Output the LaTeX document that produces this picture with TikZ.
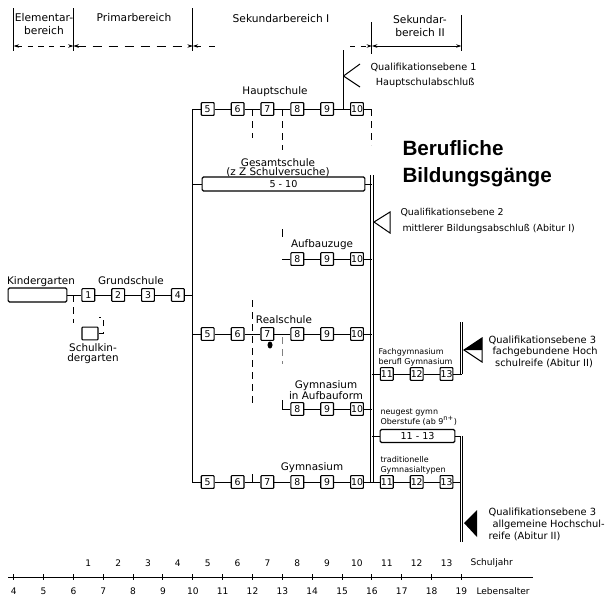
\documentclass[tikz,border=0pt]{standalone}
\usepackage{fontspec}
\setmainfont{DejaVu Sans}
\newfontfamily\titelfont{Liberation Sans}
\usetikzlibrary{arrows.meta}

\tikzset{every picture/.style={line width=0.75pt}}
\tikzset{
  spitze/.tip={Stealth[length=4pt,width=2.6pt]},
  jahr/.style={draw, line width=0.85pt, minimum size=9.6pt, inner sep=0pt, rounded corners=0.6pt, font=\fontsize{7}{7}\selectfont},
  lang/.style={draw, line width=0.85pt, minimum height=10.5pt, inner sep=0pt, rounded corners=1pt, font=\fontsize{7.2}{7.5}\selectfont},
  lbl/.style={inner sep=0.75pt, align=center, font=\fontsize{7.8}{8}\selectfont},
  klein/.style={anchor=west, inner sep=0.75pt, align=left, font=\fontsize{6}{7.5}\selectfont},
  qual/.style={anchor=west, inner sep=0.75pt, align=left},
  kopf/.style={inner sep=0.75pt, align=center, font=\fontsize{8}{9.75}\selectfont},
  achse/.style={inner sep=0.75pt, font=\fontsize{6.8}{7}\selectfont},
  pfeil/.style={spitze-spitze, line width=0.6pt},
  stamm/.style={double, double distance=1.2pt, line width=0.6pt},
  strich/.style={dash pattern=on 5pt off 4pt},
}

\begin{document}
\begin{tikzpicture}[x=0.75pt,y=0.75pt,yscale=-1,xscale=1]
\useasboundingbox (0,0) rectangle (614,600);

% Kopfzeile
\draw (13.7,8) -- (13.7,51);
\draw (73.4,8) -- (73.4,51);
\draw (192.8,8) -- (192.8,51);
\draw (371.9,22) -- (371.9,54);
\draw (461.5,15) -- (461.5,51);
\draw[pfeil, dash pattern=on 4pt off 4pt] (13.7,46) -- (73.4,46);
\draw[pfeil, dash pattern=on 7pt off 5pt] (73.4,46) -- (192.8,46);
\draw[spitze-, line width=0.6pt, dash pattern=on 4pt off 6pt] (192.8,46) -- (222,46);
\draw[-spitze, line width=0.6pt, dash pattern=on 4pt off 4pt] (350,46) -- (371.9,46);
\draw[pfeil] (371.9,46) -- (461.5,46);
\node[kopf] (elem) at (44,24.5) {Elementar-\\bereich};
\node[kopf] (prim) at (134,18) {Primarbereich};
\node[kopf] (sek1) at (281,19) {Sekundarbereich I};
\node[kopf] (sek2) at (420,26) {Sekundar-\\bereich II};

% Elementar- und Primarbereich
\node[lang, minimum width=44pt] (kiga) at (37.5,295) {};
\node[jahr] (g1) at (88.3,295) {1};
\node[jahr] (g2) at (118.2,295) {2};
\node[jahr] (g3) at (148,295) {3};
\node[jahr] (g4) at (177.9,295) {4};
\draw (kiga) -- (g1) -- (g2) -- (g3) -- (g4);
\node[lbl] (lkiga) at (41,282) {Kindergarten};
\node[lbl] (lgrund) at (131,281) {Grundschule};
\node[jahr, minimum width=12pt] (skg) at (90,333.5) {};
\node[lbl, font=\fontsize{7.8}{7.5}\selectfont] (lskg) at (93,354) {Schulkin-\\dergarten};
\coordinate (kd) at (73.4,295);
\draw[strich] (kd) -- ++(0,28);
\draw[strich] (skg.east) -| (103.3,317) -- ++(-4,0);

% Sekundarbereich I
\coordinate (lo) at (192.8,109);
\coordinate (lu) at (192.8,482);
\coordinate (ro) at (371.9,175);
\coordinate (ru) at (371.9,482);

\node[jahr] (h5) at (207.7,109) {5};
\node[jahr] (h6) at (237.6,109) {6};
\node[jahr] (h7) at (267.4,109) {7};
\node[jahr] (h8) at (297.3,109) {8};
\node[jahr] (h9) at (327.1,109) {9};
\node[jahr] (h10) at (357,109) {10};
\coordinate (he) at (371.9,109);
\draw (h5) -- (h6) -- (h7) -- (h8) -- (h9) -- (h10) -- (he);
\draw[strich] (he) -- ++(0,36);
\node[lbl] (lhaupt) at (275,92) {Hauptschule};

\node[lang, minimum width=122pt] (gs) at (283.5,184) {5 - 10};
\node[lbl, font=\fontsize{7.8}{7}\selectfont] (lgs) at (278,167.5) {Gesamtschule\\(z Z Schulversuche)};

\node[jahr] (a8) at (297.3,259) {8};
\node[jahr] (a9) at (327.1,259) {9};
\node[jahr] (a10) at (357,259) {10};
\coordinate (auflead) at (282.4,259);
\draw (auflead) -- (a8) -- (a9) -- (a10);
\node[lbl] (lauf) at (322,245) {Aufbauzuge};

\node[jahr] (r5) at (207.7,334) {5};
\node[jahr] (r6) at (237.6,334) {6};
\node[jahr] (r7) at (267.4,334) {7};
\node[jahr] (r8) at (297.3,334) {8};
\node[jahr] (r9) at (327.1,334) {9};
\node[jahr] (r10) at (357,334) {10};
\draw (r5) -- (r6) -- (r7) -- (r8) -- (r9) -- (r10);
\node[lbl] (lreal) at (284,320) {Realschule};
\fill (270,345) ellipse [x radius=2.5, y radius=3.5];

\node[jahr] (ga8) at (297.3,409) {8};
\node[jahr] (ga9) at (327.1,409) {9};
\node[jahr] (ga10) at (357,409) {10};
\coordinate (gaflead) at (282.4,400);
\draw (gaflead) |- (ga8);
\draw (ga8) -- (ga9) -- (ga10);
\node[lbl, font=\fontsize{7.8}{8.25}\selectfont] (lgaf) at (326,390.5) {Gymnasium\\in Aufbauform};

\node[jahr] (gy5) at (207.7,482) {5};
\node[jahr] (gy6) at (237.6,482) {6};
\node[jahr] (gy7) at (267.4,482) {7};
\node[jahr] (gy8) at (297.3,482) {8};
\node[jahr] (gy9) at (327.1,482) {9};
\node[jahr] (gy10) at (357,482) {10};
\draw (gy5) -- (gy6) -- (gy7) -- (gy8) -- (gy9) -- (gy10);
\node[lbl] (lgym) at (312,468) {Gymnasium};

% Stamm links
\draw (h5) -- (lo) -- (lu) -- (gy5);
\draw (g4) -- (g4 -| lo);
\draw (gs) -- (gs -| lo);
\draw (r5) -- (r5 -| lo);

% gestrichelte Linien
\draw[strich] (252.5,109) -- (252.5,138);
\draw[strich] (282.4,109) -- (282.4,150);
\draw (282.4,229) -- (282.4,237);
\draw[strich] (252.5,300) -- (252.5,405);
\draw (252.5,474) -- (252.5,482);
\draw[strich, gray] (282.4,337) -- (282.4,364);

% Qualifikationsebene 1
\coordinate (q1o) at (342.1,50);
\coordinate (q1u) at (342.1,109);
\draw[stamm] (q1o) -- (q1u);
\draw (343.5,76) -- (360,64);
\draw (343.5,76) -- (360,87);
\node[qual, font=\fontsize{7.3}{11.25}\selectfont] (q1) at (369,75.5) {Qualifikationsebene 1\\\hspace*{4pt}Hauptschulabschluß};

% Stamm rechts
\draw[stamm] (ro) -- (ru);
\draw (gs) -- (gs -| ro);
\draw (a10) -- (a10 -| ro);
\draw (r10) -- (r10 -| ro);
\draw (ga10) -- (ga10 -| ro);

\node[anchor=base west, inner sep=0pt, font={\titelfont\bfseries\fontsize{15.5}{18}\selectfont}] (beruf) at (402,155) {Berufliche};
\node[anchor=base west, inner sep=0pt, font={\titelfont\bfseries\fontsize{15.5}{18}\selectfont}] (bild) at (402,182) {Bildungsgänge};

% Qualifikationsebene 2
\draw (374,222) -- (390,212) -- (390,233) -- cycle;
\node[qual, font=\fontsize{7.1}{12}\selectfont] (q2) at (399,221) {Qualifikationsebene 2\\\hspace*{1.5pt}mittlerer Bildungsabschluß (Abitur I)};

% Sekundarbereich II
\node[jahr] (f11) at (386.8,374) {11};
\node[jahr] (f12) at (416.7,374) {12};
\node[jahr] (f13) at (446.5,374) {13};
\draw (f11 -| ro) -- (f11) -- (f12) -- (f13);
\node[klein] (lfach) at (377,357) {Fachgymnasium\\berufl Gymnasium};
\coordinate (q3ao) at (461.5,322);
\coordinate (q3au) at (461.5,374);
\draw (f13) -- (q3au);
\draw[stamm] (q3ao) -- (q3au);
\fill (464,350) -- (482,338) -- (482,350) -- cycle;
\draw (464,350) -- (482,338) -- (482,362) -- cycle;
\node[qual, font=\fontsize{7.4}{8.6}\selectfont] (q3a) at (487,351.5) {Qualifikationsebene 3\\\hspace*{3pt}fachgebundene Hoch\\\hspace*{5pt}schulreife (Abitur II)};

\node[lang, minimum width=56pt, minimum height=9.75pt] (neu) at (417.5,436) {11 - 13};
\draw (neu -| ro) -- (neu);
\node[klein] (lneu) at (379,417) {neugest gymn\\Oberstufe (ab 9\textsuperscript{n+})};
\coordinate (q3bo) at (461.5,436);
\coordinate (q3bu) at (461.5,542);
\draw (neu) -- (q3bo);

\node[jahr] (t11) at (386.8,482) {11};
\node[jahr] (t12) at (416.7,482) {12};
\node[jahr] (t13) at (446.5,482) {13};
\draw (gy10) -- (t11) -- (t12) -- (t13) -- (t13 -| q3bo);
\node[klein] (ltrad) at (379,465) {traditionelle\\Gymnasialtypen};
\draw[stamm] (q3bo) -- (q3bu);
\fill (464,523) -- (477,510) -- (477,537) -- cycle;
\node[qual, font=\fontsize{7.4}{9}\selectfont] (q3b) at (487,524) {Qualifikationsebene 3\\\hspace*{3pt}allgemeine Hochschul-\\reife (Abitur II)};

% Achse
\draw (8,577) -- (533,577);
\foreach \a in {4,...,19}{
  \draw ({13.7+29.85*(\a-4)},574) -- ++(0,6);
  \node[achse] (la\a) at ({13.7+29.85*(\a-4)},591) {\a};
}
\foreach \n in {1,...,13}
  \node[achse] (sj\n) at ({13.7+29.85*(\n+1.5)},563) {\n};
\node[achse, anchor=west] (lsj) at (469,563) {Schuljahr};
\node[achse, anchor=west] (lla) at (475,591) {Lebensalter};

\end{tikzpicture}
\end{document}
